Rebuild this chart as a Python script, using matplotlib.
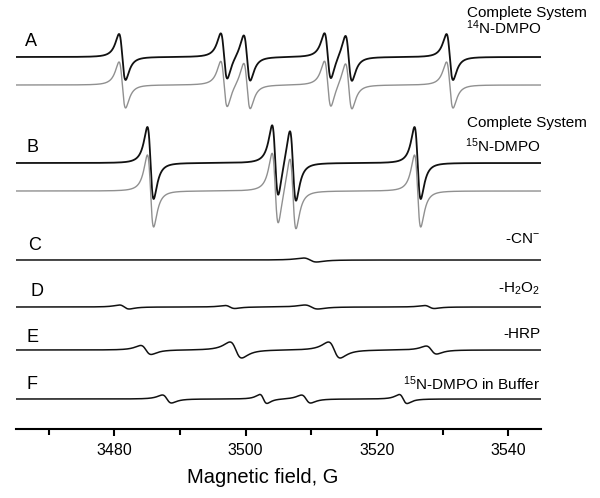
import numpy as np
import matplotlib
matplotlib.use("Agg")
import matplotlib.pyplot as plt
from matplotlib.ticker import MultipleLocator

plt.rcParams["font.family"] = ["Liberation Sans", "DejaVu Sans"]
plt.rcParams["mathtext.default"] = "regular"
plt.rcParams["axes.unicode_minus"] = False

# line centres (G), half peak-to-peak heights (px) and peak-to-peak widths (G)
a_pos = [3481.2, 3496.7, 3500.2, 3512.5, 3515.7, 3531.1]
a_amp = [23, 23, 23, 23, 23, 23]
a_wid = [1.0, 1.0, 1.0, 1.0, 1.0, 1.0]

b_pos = [3485.5, 3504.5, 3507.2, 3526.2]
b_amp = [36, 36, 36, 36]
b_wid = [0.95, 0.95, 0.95, 0.95]

c_pos = [3509.8]
c_amp = [2]
c_wid = [2.0]

d_pos = [3481.5, 3497.6, 3510.0, 3528.0]
d_amp = [2.0, 1.5, 2.0, 1.5]
d_wid = [1.5, 1.5, 2.0, 1.5]

e_pos = [3484.8, 3498.5, 3513.5, 3528.3]
e_amp = [4.5, 8, 8, 4]
e_wid = [1.6, 1.8, 1.8, 1.6]

f_pos = [3488.0, 3502.7, 3509.2, 3524.0]
f_amp = [4, 4.5, 4, 4.5]
f_wid = [1.4, 1.1, 1.4, 1.2]

field = np.linspace(3465, 3545, 3201)


def spectrum(pos, amp, wid):
    y = np.zeros_like(field)
    for b0, a, w in zip(pos, amp, wid):
        g = w * np.sqrt(3) / 2
        u = (field - b0) / g
        y += a * (-2 * u / (1 + u ** 2) ** 2) / 0.6495
    return y


fig = plt.figure(figsize=(6, 4.98), dpi=100)
ax = fig.add_axes([16 / 600, 1 - 429 / 498, 525 / 600, 429 / 498])

# baselines in pixels from the top of the picture
traces = [
    (a_pos, a_amp, a_wid, 57, "#111111", 1.3),
    (a_pos, a_amp, a_wid, 85, "#909090", 1.0),
    (b_pos, b_amp, b_wid, 163, "#111111", 1.3),
    (b_pos, b_amp, b_wid, 191, "#909090", 1.0),
    (c_pos, c_amp, c_wid, 260, "#111111", 1.1),
    (d_pos, d_amp, d_wid, 307, "#111111", 1.1),
    (e_pos, e_amp, e_wid, 350, "#111111", 1.1),
    (f_pos, f_amp, f_wid, 399, "#111111", 1.1),
]
for pos, amp, wid, py, col, lw in traces:
    ax.plot(field, 429 - py + spectrum(pos, amp, wid), color=col, lw=lw)

ax.set_xlim(3465, 3545)
ax.set_ylim(0, 429)
for s in ["left", "right", "top"]:
    ax.spines[s].set_visible(False)
ax.spines["bottom"].set_linewidth(1.5)
ax.set_yticks([])
ax.xaxis.set_major_locator(MultipleLocator(20))
ax.xaxis.set_minor_locator(MultipleLocator(10))
ax.tick_params(axis="x", which="major", direction="out", length=5, width=1.5,
               labelsize=11.5, pad=5)
ax.tick_params(axis="x", which="minor", direction="out", length=4, width=1.5)
ax.set_xlabel("Magnetic field, G", fontsize=14.5)
ax.xaxis.set_label_coords((263 - 16) / 525, -(477 - 429) / 429, transform=ax.transAxes)
ax.xaxis.label.set_va("center")


def put(px, py, s, ha="left", size=11):
    fig.text(px / 600, 1 - py / 498, s, ha=ha, va="center", fontsize=size)


for letter, lx, ly in [("A", 25, 41), ("B", 26, 147), ("C", 28, 245),
                       ("D", 30, 291), ("E", 27, 337), ("F", 27, 384)]:
    put(lx, ly, letter, size=13)

put(467, 13, "Complete System")
put(466, 28, "$^{14}$N-DMPO")
put(467, 123, "Complete System")
put(465, 146, "$^{15}$N-DMPO")
put(540, 239, "-CN$^{-}$", ha="right")
put(540, 289, "-H$_2$O$_2$", ha="right")
put(540, 334, "-HRP", ha="right")
put(540, 384, "$^{15}$N-DMPO in Buffer", ha="right")

fig.savefig("out.png", dpi=100)
